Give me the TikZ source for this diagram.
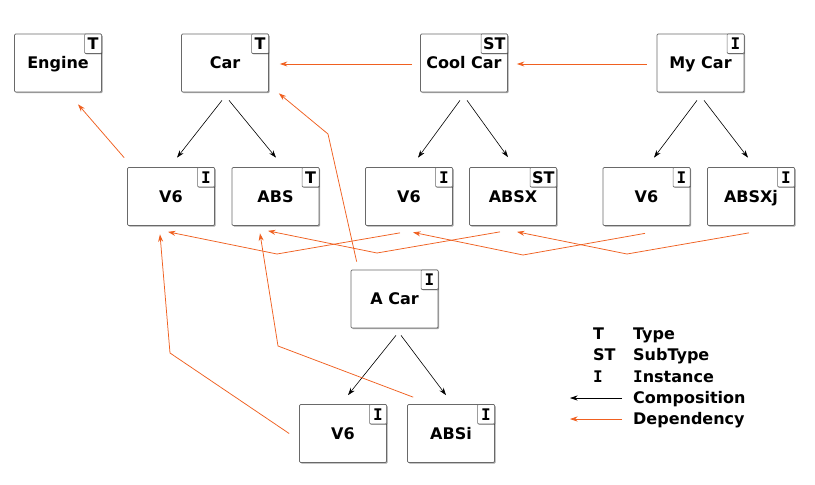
\documentclass[tikz,border=0pt]{standalone}
\usepackage{fontspec}
\setmainfont{DejaVu Sans}
\newfontfamily\serifI{DejaVu Sans Mono}
\usetikzlibrary{arrows.meta,shadows,calc}
\definecolor{dep}{RGB}{240,96,32}
\definecolor{bord}{RGB}{105,105,105}
\newcommand{\labfont}{\bfseries\fontsize{16}{19}\selectfont}
\newcommand{\capI}{{\serifI\bfseries I}}
\begin{document}
\begin{tikzpicture}[x=1pt,y=-1pt,
  box/.style={draw=bord, fill=white, line width=0.7pt, minimum width=87pt, minimum height=58pt,
    rounded corners=1.2pt, inner sep=0pt, font=\labfont, text height=11.6pt, text depth=0pt,
    drop shadow={shadow xshift=1.2pt, shadow yshift=-1.2pt, opacity=0.35, fill=black}},
  badge/.style={draw=bord, fill=white, line width=0.6pt, minimum width=17pt, minimum height=19.5pt,
    rounded corners=1pt, inner xsep=2pt, inner ysep=0pt, font=\labfont, text height=11.6pt, text depth=0pt,
    anchor=north east,
    drop shadow={shadow xshift=0.8pt, shadow yshift=-0.8pt, opacity=0.3, fill=black}},
  comp/.style={draw=black, line width=0.6pt, -{Stealth[length=7.5pt,width=5pt]}},
  depa/.style={draw=dep, line width=0.75pt, -{Stealth[length=7.5pt,width=5pt]}},
  leg/.style={font=\labfont, anchor=west, inner sep=0pt, text height=11.6pt, text depth=0pt}
]
\useasboundingbox (0,0) rectangle (815,485);
\fill[white] (0,0) rectangle (815,485);

% top row
\node[box] (engine) at (58,63) {Engine};
\node[badge] (engineB) at (engine.north east) {T};
\node[box] (car) at (225,63) {Car};
\node[badge] (carB) at (car.north east) {T};
\node[box] (cool) at (464,63) {Cool Car};
\node[badge] (coolB) at (cool.north east) {ST};
\node[box] (mycar) at (700.5,63) {My Car};
\node[badge] (mycarB) at (mycar.north east) {\capI};

% middle row
\node[box] (v6a) at (171,196.5) {V6};
\node[badge] (v6aB) at (v6a.north east) {\capI};
\node[box] (abs) at (275.5,196.5) {ABS};
\node[badge] (absB) at (abs.north east) {T};
\node[box] (v6b) at (409,196.5) {V6};
\node[badge] (v6bB) at (v6b.north east) {\capI};
\node[box] (absx) at (513,196.5) {ABSX};
\node[badge] (absxB) at (absx.north east) {ST};
\node[box] (v6c) at (646.5,196.5) {V6};
\node[badge] (v6cB) at (v6c.north east) {\capI};
\node[box] (absxj) at (751,196.5) {ABSXj};
\node[badge] (absxjB) at (absxj.north east) {\capI};

% A Car and its parts
\node[box] (acar) at (394.5,299) {A Car};
\node[badge] (acarB) at (acar.north east) {\capI};
\node[box] (v6d) at (343,433.5) {V6};
\node[badge] (v6dB) at (v6d.north east) {\capI};
\node[box] (absi) at (451,433.5) {ABSi};
\node[badge] (absiB) at (absi.north east) {\capI};

% composition arrows
\draw[comp] ($(car.south)+(-3,8)$) -- ($(v6a.north)+(6,-9.5)$);
\draw[comp] ($(car.south)+(4,8)$) -- ($(abs.north)+(0.5,-9.5)$);
\draw[comp] ($(cool.south)+(-4,8)$) -- ($(v6b.north)+(9,-9.5)$);
\draw[comp] ($(cool.south)+(3,8)$) -- ($(absx.north)+(-5,-10)$);
\draw[comp] ($(mycar.south)+(-3.5,8)$) -- ($(v6c.north)+(7.5,-9.5)$);
\draw[comp] ($(mycar.south)+(3.5,8)$) -- ($(absxj.north)+(-3,-9.5)$);
\draw[comp] ($(acar.south)+(1.5,7)$) -- ($(v6d.north)+(5,-9)$);
\draw[comp] ($(acar.south)+(6.5,7)$) -- ($(absi.north)+(-5,-9)$);

% dependency arrows
\draw[depa] ($(cool.west)+(-8,1)$) -- ($(car.east)+(11,1)$);
\draw[depa] ($(mycar.west)+(-10,1)$) -- ($(cool.east)+(9,1)$);
\draw[depa] ($(v6a.north west)+(-3,-9.5)$) -- ($(engine.south)+(20,12)$);
\draw[depa] ($(acar.north west)+(6,-8)$) -- (328,134) -- ($(car.south east)+(10,1)$);
\draw[depa] ($(v6b.south)+(-9,7)$) -- (277,254) -- ($(v6a.south)+(-3,6)$);
\draw[depa] ($(absx.south)+(-13,6)$) -- (377,253) -- ($(abs.south)+(-7.5,5)$);
\draw[depa] ($(v6c.south)+(-1.5,7.5)$) -- (523,255) -- ($(v6b.south)+(4,6.5)$);
\draw[depa] ($(absxj.south)+(-2,7)$) -- (627,254) -- ($(absx.south)+(4,6)$);
\draw[depa] ($(v6d.west)+(-10,0)$) -- (170,353) -- ($(v6a.south)+(-11,8.5)$);
\draw[depa] ($(absi.north west)+(6,-7)$) -- (278,346) -- ($(abs.south)+(-15.5,7.5)$);

% legend
\node[leg] (lT) at (593,334) {T};
\node[leg] (lType) at (633,334) {Type};
\node[leg] (lST) at (593,355) {ST};
\node[leg] (lSubType) at (633,355) {SubType};
\node[leg] (lI) at (593,377) {\capI};
\node[leg] (lInstance) at (633,377) {\capI nstance};
\node[leg] (lComp) at (633,398) {Composition};
\node[leg] (lDep) at (633,419) {Dependency};
\coordinate (cS) at (622,398);
\coordinate (cE) at (570,398);
\coordinate (dS) at (622,419);
\coordinate (dE) at (570,419);
\draw[comp] (cS) -- (cE);
\draw[depa] (dS) -- (dE);
\end{tikzpicture}
\end{document}
